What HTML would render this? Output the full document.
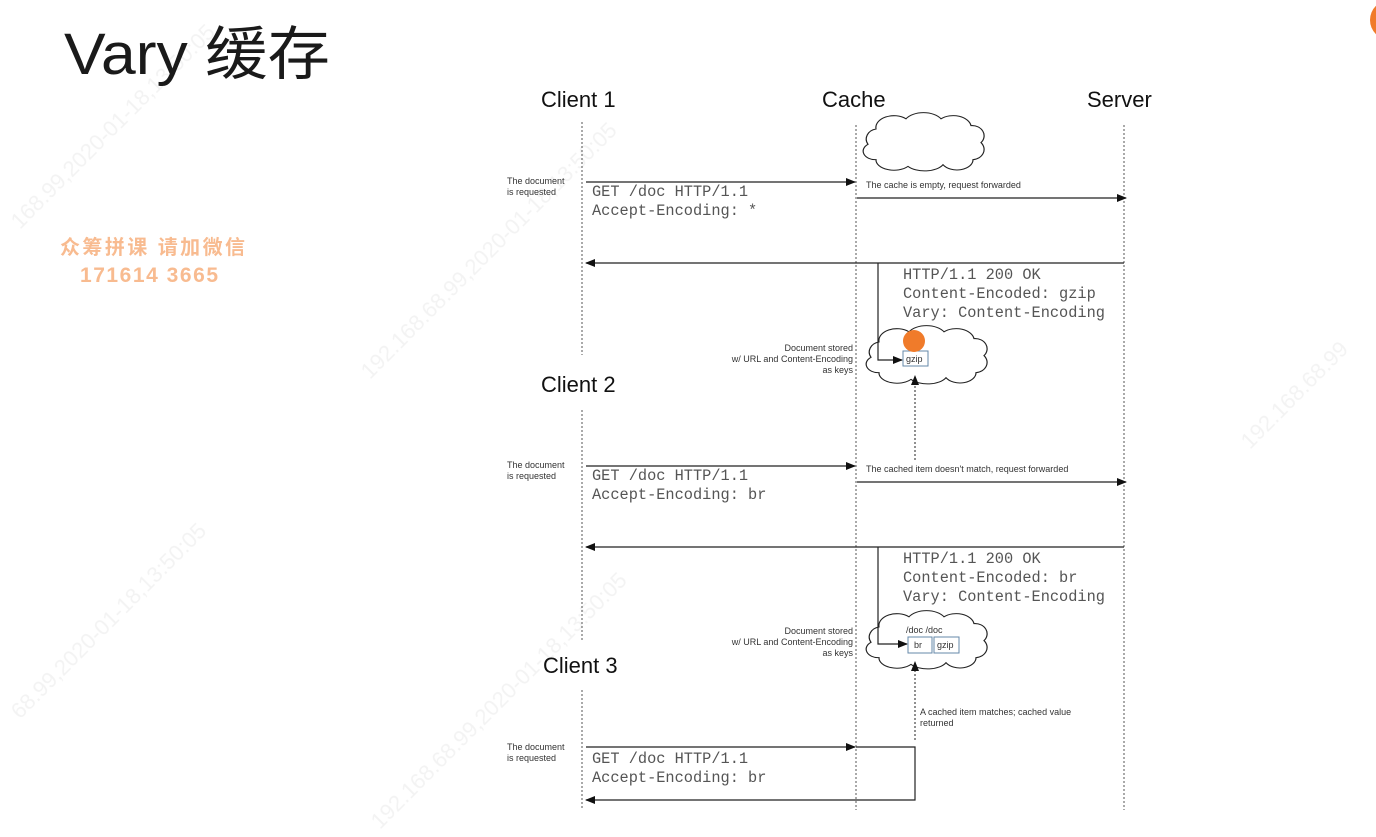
<!DOCTYPE html>
<html><head><meta charset="utf-8"><style>
html,body{margin:0;padding:0;background:#fff;}
svg{display:block;}
.h{font-family:"Liberation Sans",sans-serif;font-size:22px;fill:#111;}
.s{font-family:"Liberation Sans",sans-serif;font-size:9px;fill:#333;}
.m{font-family:"Liberation Mono",monospace;font-size:15.3px;fill:#555;}
.wm{font-family:"Liberation Sans",sans-serif;font-size:22px;fill:#000;opacity:0.05;}
</style></head><body>
<svg width="1376" height="837" viewBox="0 0 1376 837" xmlns="http://www.w3.org/2000/svg">
<defs>
<marker id="a" markerWidth="10" markerHeight="8" refX="9" refY="4" orient="auto" markerUnits="userSpaceOnUse"><path d="M0,0 L10,4 L0,8 z" fill="#111"/></marker>
<path id="cl" d="M20,20 a18,14 0 0 1 30,-12 a20,14 0 0 1 35,0 a18,14 0 0 1 30,8 a12,12 0 0 1 10,20 a12,12 0 0 1 -8,20 a16,12 0 0 1 -30,6 a20,12 0 0 1 -35,2 a18,12 0 0 1 -32,-8 a12,10 0 0 1 -8,-18 a12,12 0 0 1 8,-18 z" fill="#fff" stroke="#222" stroke-width="1.2"/>
</defs>
<circle cx="1390" cy="20" r="20" fill="#f07b2a"/>
<text x="64" y="74" font-family="'Liberation Sans','Noto Sans CJK SC',sans-serif" font-size="58" fill="#1a1a1a" textLength="266" lengthAdjust="spacingAndGlyphs">Vary 缓存</text>
<text x="60" y="254" font-family="'Liberation Sans','Noto Sans CJK SC',sans-serif" font-size="20" font-weight="bold" fill="#f8bb90" textLength="185" lengthAdjust="spacing">众筹拼课  请加微信</text>
<text x="80" y="282" font-family="'Liberation Sans',sans-serif" font-size="21" font-weight="bold" fill="#f8bb90" textLength="138" lengthAdjust="spacing">171614 3665</text>
<g stroke="#555" stroke-width="1" stroke-dasharray="2,2">
<line x1="582" y1="122" x2="582" y2="355"/><line x1="582" y1="410" x2="582" y2="640"/><line x1="582" y1="690" x2="582" y2="810"/>
<line x1="856" y1="125" x2="856" y2="810"/><line x1="1124" y1="125" x2="1124" y2="810"/>
</g>
<text class="h" x="541" y="107">Client 1</text><text class="h" x="822" y="107">Cache</text><text class="h" x="1087" y="107">Server</text>
<text class="h" x="541" y="392">Client 2</text><text class="h" x="543" y="673">Client 3</text>
<use href="#cl" transform="translate(856,112) scale(1,0.85)"/>
<g stroke="#222" stroke-width="1.2" fill="none">
<line x1="586" y1="182" x2="855" y2="182" marker-end="url(#a)"/>
<line x1="857" y1="198" x2="1126" y2="198" marker-end="url(#a)"/>
<line x1="1124" y1="263" x2="586" y2="263" marker-end="url(#a)"/>
<line x1="586" y1="466" x2="855" y2="466" marker-end="url(#a)"/>
<line x1="857" y1="482" x2="1126" y2="482" marker-end="url(#a)"/>
<line x1="1124" y1="547" x2="586" y2="547" marker-end="url(#a)"/>
<line x1="586" y1="747" x2="855" y2="747" marker-end="url(#a)"/>
<polyline points="856,747 915,747 915,800 586,800" marker-end="url(#a)"/>
</g>
<text class="s" x="507" y="184">The document</text><text class="s" x="507" y="195">is requested</text>
<text class="m" x="592" y="196">GET /doc HTTP/1.1</text><text class="m" x="592" y="215">Accept-Encoding: *</text>
<text class="s" x="866" y="188">The cache is empty, request forwarded</text>
<text class="m" x="903" y="279">HTTP/1.1 200 OK</text><text class="m" x="903" y="298">Content-Encoded: gzip</text><text class="m" x="903" y="317">Vary: Content-Encoding</text>
<use href="#cl" transform="translate(859,325) scale(1,0.85)"/>
<polyline points="878,263 878,360 902,360" stroke="#222" stroke-width="1.2" fill="none" marker-end="url(#a)"/>
<rect x="903" y="351" width="25" height="15" fill="#fff" stroke="#6688aa"/><text class="s" x="906" y="362">gzip</text>
<circle cx="914" cy="341" r="11" fill="#f07b2a"/>
<g class="s" text-anchor="end"><text x="853" y="351">Document stored</text><text x="853" y="362">w/ URL and Content-Encoding</text><text x="853" y="373">as keys</text></g>
<line x1="915" y1="460" x2="915" y2="376" stroke="#222" stroke-dasharray="2,2" marker-end="url(#a)"/>
<text class="s" x="507" y="468">The document</text><text class="s" x="507" y="479">is requested</text>
<text class="m" x="592" y="480">GET /doc HTTP/1.1</text><text class="m" x="592" y="499">Accept-Encoding: br</text>
<text class="s" x="866" y="472">The cached item doesn't match, request forwarded</text>
<text class="m" x="903" y="563">HTTP/1.1 200 OK</text><text class="m" x="903" y="582">Content-Encoded: br</text><text class="m" x="903" y="601">Vary: Content-Encoding</text>
<use href="#cl" transform="translate(859,610) scale(1,0.85)"/>
<polyline points="878,547 878,644 907,644" stroke="#222" stroke-width="1.2" fill="none" marker-end="url(#a)"/>
<text class="s" x="906" y="633" fill="#666">/doc /doc</text>
<rect x="908" y="637" width="24" height="16" fill="#fff" stroke="#6688aa"/><text class="s" x="914" y="648">br</text>
<rect x="934" y="637" width="25" height="16" fill="#fff" stroke="#6688aa"/><text class="s" x="937" y="648">gzip</text>
<g class="s" text-anchor="end"><text x="853" y="634">Document stored</text><text x="853" y="645">w/ URL and Content-Encoding</text><text x="853" y="656">as keys</text></g>
<line x1="915" y1="740" x2="915" y2="662" stroke="#222" stroke-dasharray="2,2" marker-end="url(#a)"/>
<text class="s" x="920" y="715">A cached item matches; cached value</text><text class="s" x="920" y="726">returned</text>
<text class="s" x="507" y="750">The document</text><text class="s" x="507" y="761">is requested</text>
<text class="m" x="592" y="763">GET /doc HTTP/1.1</text><text class="m" x="592" y="782">Accept-Encoding: br</text>
<g class="wm">
<text transform="translate(20,230) rotate(-45)">168.99,2020-01-18,13:50:05</text>
<text transform="translate(370,380) rotate(-45)">192.168.68.99,2020-01-18,13:50:05</text>
<text transform="translate(20,720) rotate(-45)">68.99,2020-01-18,13:50:05</text>
<text transform="translate(380,830) rotate(-45)">192.168.68.99,2020-01-18,13:50:05</text>
<text transform="translate(1250,450) rotate(-45)">192.168.68.99</text>
</g>
</svg>
</body></html>
